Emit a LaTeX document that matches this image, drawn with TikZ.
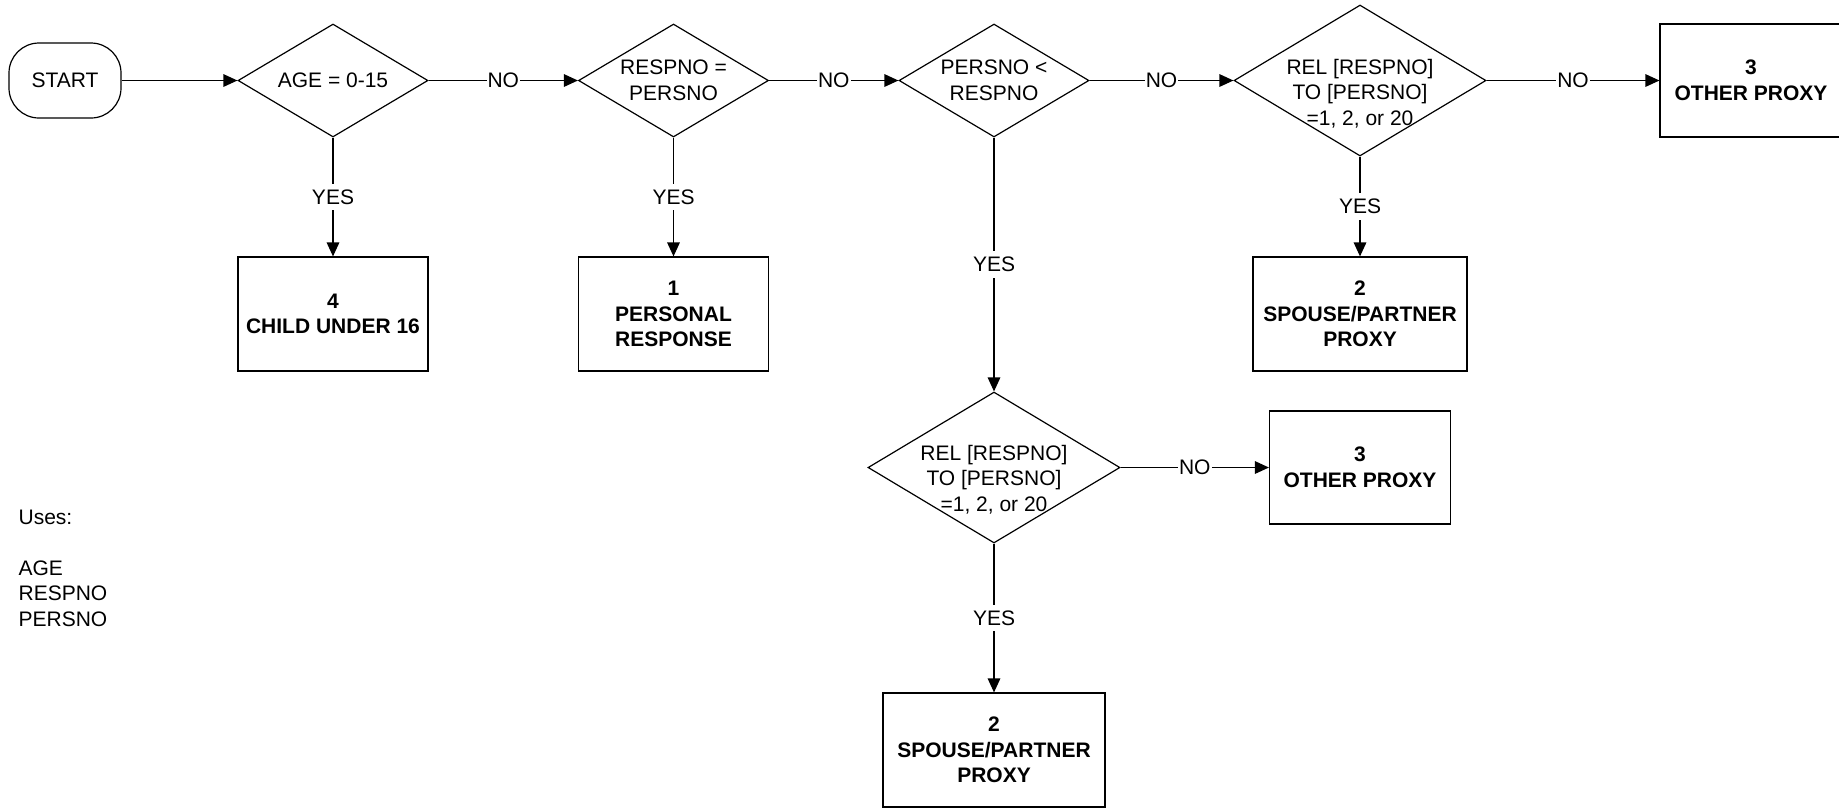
\documentclass[tikz,border=0pt]{standalone}
\usepackage{fontspec}
\setmainfont{Liberation Sans}
\usetikzlibrary{shapes.geometric,arrows.meta}
\begin{document}
\begin{tikzpicture}[x=0.5pt,y=-0.5pt,
  line width=0.6pt,
  every node/.style={font=\fontsize{10.5pt}{12.75pt}\selectfont, align=center, inner sep=0pt},
  dec/.style={draw, diamond, inner sep=0pt},
  outbox/.style={draw, rectangle, font=\fontsize{10.5pt}{12.75pt}\selectfont\bfseries},
  startbox/.style={draw, rectangle, rounded corners=15pt, minimum width=56pt, minimum height=37.5pt},
  arr/.style={-{Triangle[length=7pt,width=6.3pt]}},
  lbl/.style={fill=white, inner xsep=0.5pt, inner ysep=3pt}
]
\useasboundingbox (0,0) rectangle (1839,811);
\clip (0,0) rectangle (1839,811);

% start
\node[startbox] (start) at (65,80.5) {START};

% decisions
\node[dec, minimum width=95pt, minimum height=56.5pt] (d1) at (333,80.5) {};
\node (d1t) at (d1.center) {AGE = 0-15};
\node[dec, minimum width=95pt, minimum height=56.5pt] (d2) at (673.5,80.5) {};
\node (d2t) at (d2.center) {RESPNO =\\PERSNO};
\node[dec, minimum width=95pt, minimum height=56.5pt] (d3) at (994,80.5) {};
\node (d3t) at (d3.center) {PERSNO <\\RESPNO};
\node[dec, minimum width=126pt, minimum height=75.5pt] (d4) at (1360,80.5) {};
\node (d4t) at ([yshift=-6.5pt]d4.center) {REL [RESPNO]\\TO [PERSNO]\\=1, 2, or 20};
\node[dec, minimum width=126pt, minimum height=75.5pt] (d5) at (994,467.5) {};
\node (d5t) at ([yshift=-6pt]d5.center) {REL [RESPNO]\\TO [PERSNO]\\=1, 2, or 20};

% outcomes
\node[outbox, minimum width=95pt, minimum height=57pt] (b4) at (333,314) {4\\CHILD UNDER 16};
\node[outbox, minimum width=95pt, minimum height=57pt] (b1) at (673.5,314) {1\\PERSONAL\\RESPONSE};
\node[outbox, minimum width=107pt, minimum height=57pt] (b2a) at (1360,314) {2\\SPOUSE/PARTNER\\PROXY};
\node[outbox, minimum width=91pt, minimum height=56.5pt] (b3a) at (1751,80.5) {3\\OTHER PROXY};
\node[outbox, minimum width=90.5pt, minimum height=56.5pt] (b3b) at (1360,467.5) {3\\OTHER PROXY};
\node[outbox, minimum width=111pt, minimum height=57pt] (b2b) at (994,750) {2\\SPOUSE/PARTNER\\PROXY};

% uses
\node[anchor=north west, align=left] (uses) at (18,509) {Uses:\\[12.75pt]AGE\\RESPNO\\PERSNO};

% connectors
\draw[arr] (start) -- (d1);
\draw[arr] (d1) -- node[lbl] (n1) {NO} (d2);
\draw[arr] (d2) -- node[lbl] (n2) {NO} (d3);
\draw[arr] (d3) -- node[lbl] (n3) {NO} (d4);
\draw[arr] (d4) -- node[lbl] (n4) {NO} (b3a);
\draw[arr] (d5) -- node[lbl] (n5) {NO} (b3b);
\draw[arr] (d1) -- node[lbl] (y1) {YES} (b4);
\draw[arr] (d2) -- node[lbl] (y2) {YES} (b1);
\draw[arr] (d3) -- node[lbl] (y3) {YES} (d5);
\draw[arr] (d4) -- node[lbl] (y4) {YES} (b2a);
\draw[arr] (d5) -- node[lbl] (y5) {YES} (b2b);
\end{tikzpicture}
\end{document}
